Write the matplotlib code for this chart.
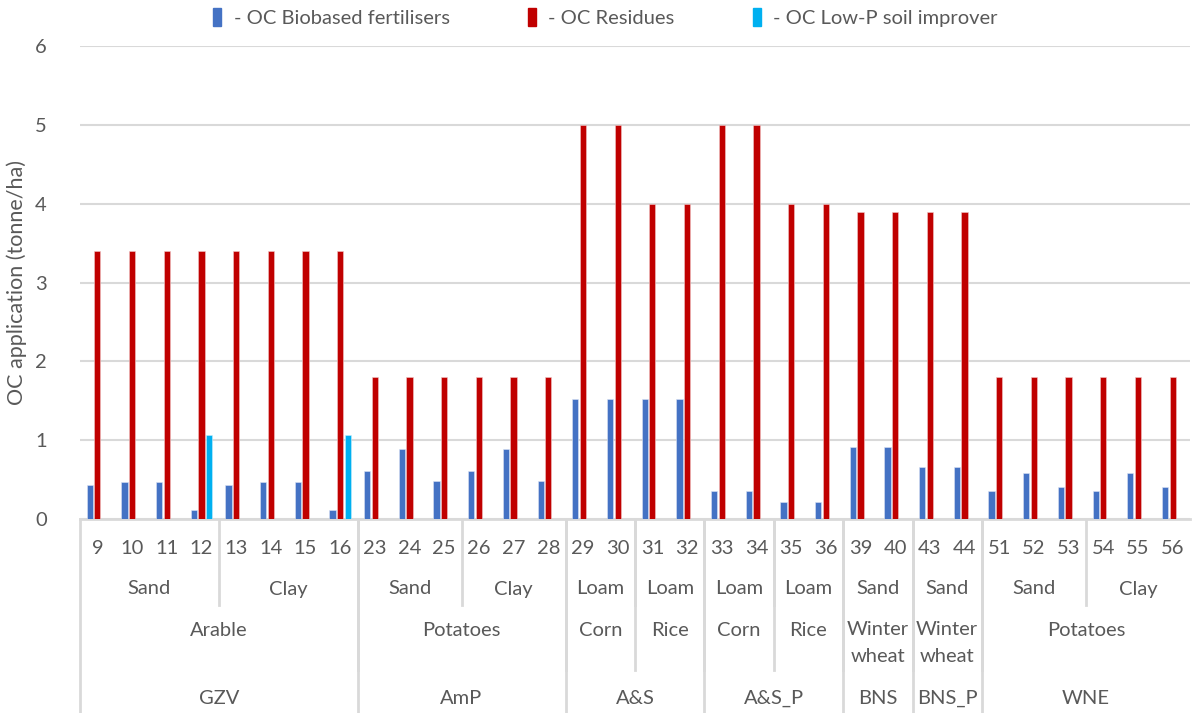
import numpy as np
import matplotlib.pyplot as plt
from matplotlib.patches import Patch

# data
runs = ['9', '10', '11', '12', '13', '14', '15', '16',
        '23', '24', '25', '26', '27', '28',
        '29', '30', '31', '32', '33', '34', '35', '36',
        '39', '40', '43', '44',
        '51', '52', '53', '54', '55', '56']
biobased = [0.43, 0.47, 0.47, 0.11, 0.43, 0.47, 0.47, 0.12,
            0.61, 0.89, 0.48, 0.61, 0.89, 0.48,
            1.52, 1.52, 1.52, 1.52, 0.35, 0.35, 0.22, 0.22,
            0.91, 0.91, 0.66, 0.66,
            0.35, 0.58, 0.41, 0.35, 0.58, 0.41]
residues = [3.4, 3.4, 3.4, 3.4, 3.4, 3.4, 3.4, 3.4,
            1.8, 1.8, 1.8, 1.8, 1.8, 1.8,
            5.0, 5.0, 4.0, 4.0, 5.0, 5.0, 4.0, 4.0,
            3.9, 3.9, 3.9, 3.9,
            1.8, 1.8, 1.8, 1.8, 1.8, 1.8]
lowp = [0, 0, 0, 1.06, 0, 0, 0, 1.06,
        0, 0, 0, 0, 0, 0,
        0, 0, 0, 0, 0, 0, 0, 0,
        0, 0, 0, 0,
        0, 0, 0, 0, 0, 0]

soil_labels = ['Sand', 'Clay', 'Sand', 'Clay', 'Loam', 'Loam', 'Loam', 'Loam',
               'Sand', 'Sand', 'Sand', 'Clay']
soil_sizes = [4, 4, 3, 3, 2, 2, 2, 2, 2, 2, 3, 3]
crop_labels = ['Arable', 'Potatoes', 'Corn', 'Rice', 'Corn', 'Rice',
               'Winter\nwheat', 'Winter\nwheat', 'Potatoes']
crop_sizes = [8, 6, 2, 2, 2, 2, 2, 2, 6]
model_labels = ['GZV', 'AmP', 'A&S', 'A&S_P', 'BNS', 'BNS_P', 'WNE']
model_sizes = [8, 6, 4, 4, 2, 2, 6]

plt.rcParams['font.family'] = ['Lato', 'DejaVu Sans']
txt = '#595959'
grid = '#D9D9D9'
W, H = 1192, 713

fig = plt.figure(figsize=(W / 100, H / 100), dpi=100)
left, right, bottom, top = 80, 1190, 519, 46
ax = fig.add_axes([left / W, 1 - bottom / H, (right - left) / W, (bottom - top) / H])

x = np.arange(len(runs))
bw = 0.18
ax.bar(x - 0.22, biobased, bw, color='#4472C4', edgecolor='#dbe3f3', linewidth=0.4, zorder=3)
ax.bar(x, residues, bw, color='#C00000', edgecolor='#f0c8c8', linewidth=0.4, zorder=3)
ax.bar(x + 0.22, lowp, bw, color='#00B0F0', edgecolor='#c8eefc', linewidth=0.4, zorder=3)

ax.set_xlim(-0.5, len(runs) - 0.5)
ax.set_ylim(0, 6)
ax.set_yticks(range(7))
ax.yaxis.grid(True, color=grid, linewidth=1.5, zorder=0)
ax.set_xticks([])
for s in ['top', 'right', 'left']:
    ax.spines[s].set_visible(False)
ax.spines['bottom'].set_color(grid)
ax.spines['bottom'].set_linewidth(2)
ax.tick_params(axis='y', length=0, labelsize=14.5, colors=txt, pad=24)
ax.set_ylabel('OC application (tonne/ha)', fontsize=15.5, color=txt, labelpad=6)

# multi-level category axis drawn in a helper axes below the plot (y in pixels)
cax = fig.add_axes([left / W, 0, (right - left) / W, (H - bottom) / H])
cax.set_xlim(ax.get_xlim())
cax.set_ylim(H - bottom, 0)
cax.axis('off')

fs = 14.5
for i, r in enumerate(runs):
    cax.text(i, 29, r, ha='center', va='center', fontsize=fs, color=txt)


def draw_level(labels, sizes, ytext, ylen):
    pos = 0
    for lab, n in zip(labels, sizes):
        cx = pos + (n - 1) / 2
        yt = ytext + 13 if '\n' in lab else ytext
        cax.text(cx, yt, lab, ha='center', va='center', fontsize=fs, color=txt,
                 linespacing=1.65)
        if pos > 0:
            cax.plot([pos - 0.5, pos - 0.5], [0, ylen], color=grid, lw=2, clip_on=False)
        pos += n


draw_level(soil_labels, soil_sizes, 70, 86)
draw_level(crop_labels, crop_sizes, 111, 151)
draw_level(model_labels, model_sizes, 179, H - bottom)
cax.plot([-0.5, -0.5], [0, H - bottom], color=grid, lw=2, clip_on=False)

handles = [Patch(color='#4472C4'), Patch(color='#C00000'), Patch(color='#00B0F0')]
names = ['- OC Biobased fertilisers', '- OC Residues', '- OC Low-P soil improver']
fig.legend(handles, names, loc='center', bbox_to_anchor=(0.508, 0.975), ncol=3,
           frameon=False, fontsize=14.5, labelcolor=txt, handlelength=0.4,
           handleheight=1.0, handletextpad=0.6, columnspacing=3.9)

fig.savefig('out.png', dpi=100)
